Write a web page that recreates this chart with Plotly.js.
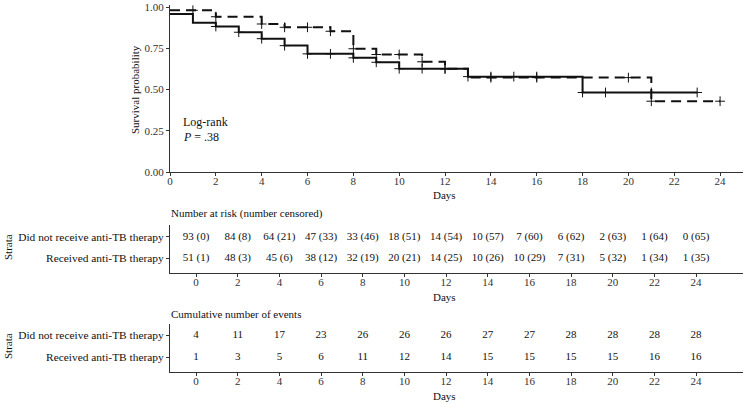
<!DOCTYPE html>
<html>
<head>
<meta charset="utf-8">
<script src="https://cdn.plot.ly/plotly-3.0.1.min.js"></script>
<style>html,body{margin:0;padding:0;background:#fff;}#chart{width:745px;height:404px;}</style>
</head>
<body>
<div id="chart"></div>
<script>
// ---- Data ----
const strata = ["Did not receive anti-TB therapy", "Received anti-TB therapy"];

// Kaplan-Meier steps: Did not receive anti-TB therapy (solid)
const timeNo = [0, 1, 2, 3, 4, 5, 6, 8, 9, 10, 13, 18, 23];
const survNo = [0.957, 0.905, 0.882, 0.847, 0.808, 0.766, 0.716, 0.692, 0.665, 0.626, 0.578, 0.482, 0.482];
const censorTimesNo = [2, 3, 4, 5, 6, 7, 8, 9, 10, 11, 12, 13, 14, 15, 16, 18, 19, 21, 23];

// Kaplan-Meier steps: Received anti-TB therapy (dashed)
const timeYes = [0, 2, 4, 5, 7, 8, 9, 11, 12, 13, 21, 24];
const survYes = [0.980, 0.941, 0.897, 0.877, 0.853, 0.747, 0.712, 0.668, 0.625, 0.572, 0.429, 0.429];
const censorTimesYes = [1, 2, 4, 5, 6, 7, 8, 9, 10, 11, 12, 14, 16, 20, 21, 24];

// Table time points
const tableTimes = [0, 2, 4, 6, 8, 10, 12, 14, 16, 18, 20, 22, 24];
const atRiskNo  = [93, 84, 64, 47, 33, 18, 14, 10, 7, 6, 2, 1, 0];
const censNo    = [0, 8, 21, 33, 46, 51, 54, 57, 60, 62, 63, 64, 65];
const atRiskYes = [51, 48, 45, 38, 32, 20, 14, 10, 10, 7, 5, 1, 1];
const censYes   = [1, 3, 6, 12, 19, 21, 25, 26, 29, 31, 32, 34, 35];
const eventsNo  = [4, 11, 17, 23, 26, 26, 26, 27, 27, 28, 28, 28, 28];
const eventsYes = [1, 3, 5, 6, 11, 12, 14, 15, 15, 15, 15, 16, 16];

const xTickVals = [0, 2, 4, 6, 8, 10, 12, 14, 16, 18, 20, 22, 24];

// ---- Helpers ----
function stepAt(times, surv, t) {
  let v = surv[0];
  for (let i = 0; i < times.length; i++) { if (times[i] <= t) v = surv[i]; }
  return v;
}
const FONT = "Liberation Serif, Times New Roman, serif";
const W = 745, H = 404;
const px = x => x / W;
const py = y => 1 - y / H;
const AX = '#333';

const censorMarker = {symbol: 'cross-thin', size: 7, line: {width: 1, color: '#111'}};
const traces = [
  {x: timeNo, y: survNo, mode: 'lines', line: {shape: 'hv', color: '#111', width: 2}, xaxis: 'x', yaxis: 'y', hoverinfo: 'skip'},
  {x: timeYes, y: survYes, mode: 'lines', line: {shape: 'hv', color: '#111', width: 2, dash: '10px,6px'}, xaxis: 'x', yaxis: 'y', hoverinfo: 'skip'},
  {x: censorTimesNo, y: censorTimesNo.map(t => stepAt(timeNo, survNo, t)), mode: 'markers',
   marker: censorMarker, xaxis: 'x', yaxis: 'y'},
  {x: censorTimesYes, y: censorTimesYes.map(t => stepAt(timeYes, survYes, t)), mode: 'markers',
   marker: censorMarker, xaxis: 'x', yaxis: 'y'},
  // Number at risk table
  {x: tableTimes, y: tableTimes.map(() => 2), mode: 'text', text: atRiskNo.map((v, i) => v + ' (' + censNo[i] + ')'),
   textfont: {family: FONT, size: 11, color: '#111'}, xaxis: 'x2', yaxis: 'y2'},
  {x: tableTimes, y: tableTimes.map(() => 1), mode: 'text', text: atRiskYes.map((v, i) => v + ' (' + censYes[i] + ')'),
   textfont: {family: FONT, size: 11, color: '#111'}, xaxis: 'x2', yaxis: 'y2'},
  // Cumulative events table
  {x: tableTimes, y: tableTimes.map(() => 2), mode: 'text', text: eventsNo.map(String),
   textfont: {family: FONT, size: 11, color: '#111'}, xaxis: 'x3', yaxis: 'y3'},
  {x: tableTimes, y: tableTimes.map(() => 1), mode: 'text', text: eventsYes.map(String),
   textfont: {family: FONT, size: 11, color: '#111'}, xaxis: 'x3', yaxis: 'y3'}
];

const xDomain = [px(170), px(743)];
const baseX = {
  domain: xDomain, showline: true, linecolor: AX, linewidth: 1, ticks: 'outside', ticklen: 3,
  tickcolor: AX, tickvals: xTickVals, showgrid: false, zeroline: false, ticklabelstandoff: -4,
  tickfont: {family: FONT, size: 11, color: '#333'}, fixedrange: true
};
const tableY = (dom, rng, anchor) => ({
  domain: dom, range: rng, anchor: anchor, showline: true, linecolor: AX, linewidth: 1,
  ticks: 'outside', ticklen: 3, tickcolor: AX, tickvals: [2, 1], ticktext: strata,
  showgrid: false, zeroline: false, tickfont: {family: FONT, size: 11.4, color: '#111'}
});

const annFont = {family: FONT, size: 11, color: '#111'};
function ann(text, x, y, opts) {
  return Object.assign({text: text, x: px(x), y: py(y), xref: 'paper', yref: 'paper',
    xanchor: 'center', yanchor: 'middle', showarrow: false, font: annFont}, opts || {});
}
const layout = {
  width: W, height: H, margin: {l: 0, r: 0, t: 0, b: 0},
  paper_bgcolor: '#fff', plot_bgcolor: '#fff', showlegend: false,
  font: {family: FONT, size: 11, color: '#111'},
  xaxis: Object.assign({}, baseX, {range: [0, 25], anchor: 'y'}),
  yaxis: {domain: [py(172), py(5)], range: [0, 1.0121], anchor: 'x', showline: true, linecolor: AX, linewidth: 1,
          ticks: 'outside', ticklen: 3, tickcolor: AX, tickvals: [0, 0.25, 0.5, 0.75, 1],
          ticktext: ['0.00', '0.25', '0.50', '0.75', '1.00'], showgrid: false, zeroline: false,
          tickfont: {family: FONT, size: 11, color: '#333'}},
  xaxis2: Object.assign({}, baseX, {range: [-1.25, 26.25], anchor: 'y2'}),
  yaxis2: tableY([py(273), py(225)], [0.286, 2.571], 'x2'),
  xaxis3: Object.assign({}, baseX, {range: [-1.25, 26.25], anchor: 'y3'}),
  yaxis3: tableY([py(372), py(324)], [0.318, 2.5], 'x3'),
  annotations: [
    ann('Survival probability', 135, 90, {textangle: -90}),
    ann('Days', 444, 195),
    ann('Log-rank', 181, 122, {xanchor: 'left', font: {family: FONT, size: 12, color: '#111'}}),
    ann('<i>P</i> = .38', 181, 137, {xanchor: 'left', font: {family: FONT, size: 12, color: '#111'}}),
    ann('Number at risk (number censored)', 169, 213, {xanchor: 'left'}),
    ann('Days', 444, 297),
    ann('Cumulative number of events', 169, 314, {xanchor: 'left'}),
    ann('Days', 444, 396),
    ann('Strata', 8, 247, {textangle: -90}),
    ann('Strata', 8, 346, {textangle: -90})
  ]
};

Plotly.newPlot('chart', traces, layout, {staticPlot: true, displayModeBar: false});
</script>
</body>
</html>
